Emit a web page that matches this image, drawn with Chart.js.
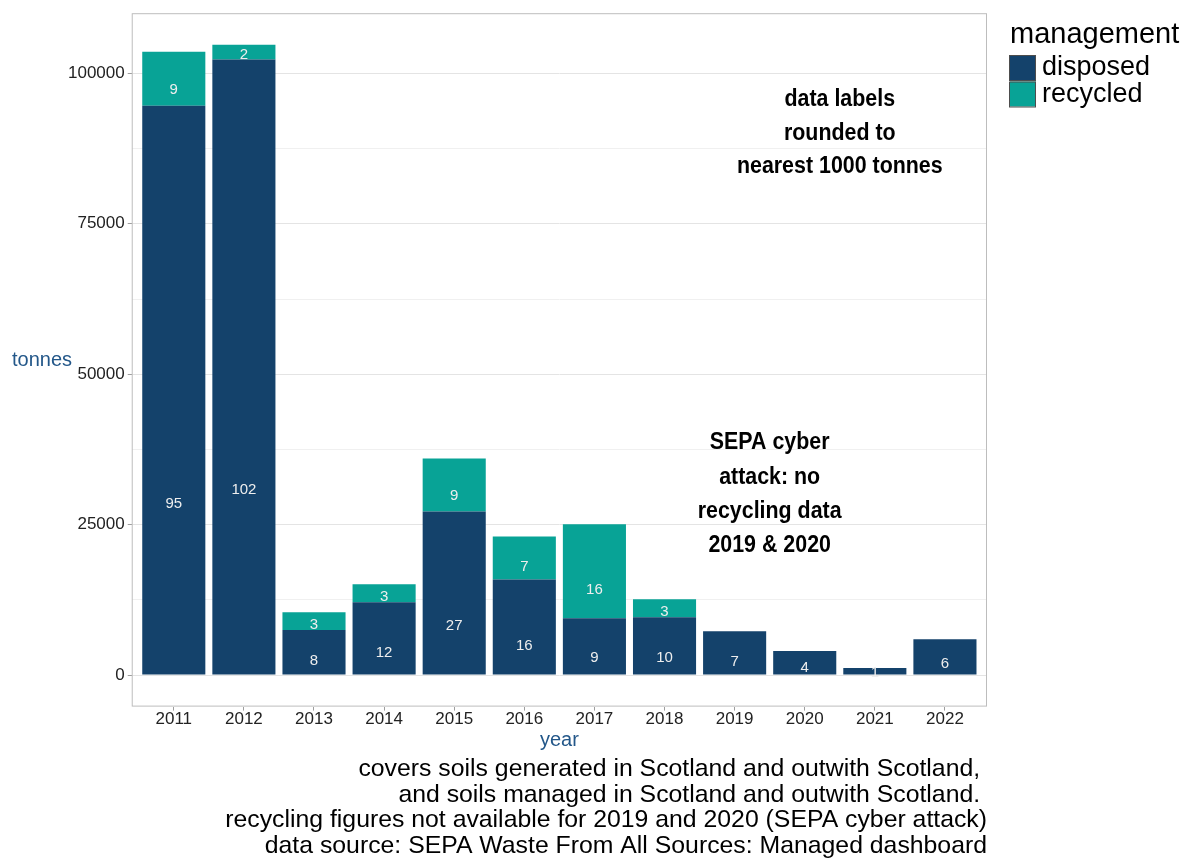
<!DOCTYPE html>
<html>
<head>
<meta charset="utf-8">
<script src="https://cdn.jsdelivr.net/npm/chart.js@4.4.1/dist/chart.umd.min.js"></script>
<style>
  body { margin: 0; background: #ffffff; }
  #wrap { width: 1192px; height: 861px; }
</style>
</head>
<body>
<div id="wrap"><canvas id="myChart"></canvas></div>
<script>
// values in tonnes
const years = [2011, 2012, 2013, 2014, 2015, 2016, 2017, 2018, 2019, 2020, 2021, 2022];
const disposed = [94600, 102300, 7500, 12100, 27200, 15900, 9450, 9600, 7300, 3980, 1160, 5970];
const recycled = [9000, 2450, 2950, 2980, 8800, 7130, 15600, 2990, null, null, null, null];
const yTicks = [0, 12500, 25000, 37500, 50000, 62500, 75000, 87500, 100000];
const yLabelTicks = [0, 25000, 50000, 75000, 100000];

const captionLines = [
  'covers soils generated in Scotland and outwith Scotland, ',
  'and soils managed in Scotland and outwith Scotland. ',
  'recycling figures not available for 2019 and 2020 (SEPA cyber attack)',
  'data source: SEPA Waste From All Sources: Managed dashboard'
];

const FONT = "'Liberation Sans', Arial, sans-serif";

window.addEventListener("load", iniciar, false);

// draw text squeezed horizontally a little
function narrowText(ctx, text, x, y, sx) {
  ctx.save();
  ctx.translate(x, y);
  ctx.scale(sx, 1);
  ctx.fillText(text, 0, 0);
  ctx.restore();
}

function iniciar() {
  const canvas = document.getElementById('myChart');

  const data = {
    datasets: [{
      label: 'disposed',
      data: years.map((y, i) => ({ x: y, y: disposed[i] })),
      backgroundColor: '#14426b',
      borderWidth: 0,
      barPercentage: 0.9,
      categoryPercentage: 1
    }, {
      label: 'recycled',
      data: years.map((y, i) => ({ x: y, y: recycled[i] })),
      backgroundColor: '#08a396',
      borderWidth: 0,
      barPercentage: 0.9,
      categoryPercentage: 1
    }]
  };

  // labels, annotations, panel border, legend, caption
  const extras = {
    id: 'extras',
    afterDatasetsDraw(chart) {
      const ctx = chart.ctx;
      ctx.save();
      ctx.font = '15px ' + FONT;
      ctx.fillStyle = '#eeeeee';
      ctx.textAlign = 'center';
      ctx.textBaseline = 'middle';
      chart.data.datasets.forEach((ds, di) => {
        const meta = chart.getDatasetMeta(di);
        meta.data.forEach((bar, i) => {
          const v = ds.data[i].y;
          if (v == null) return;
          const ly = bar.base - 0.3 * (bar.base - bar.y);
          ctx.fillText(String(Math.round(v / 1000)), bar.x, ly);
        });
      });
      ctx.restore();
    },
    afterDraw(chart) {
      const ctx = chart.ctx;
      const a = chart.chartArea;
      const xs = chart.scales.x, ys = chart.scales.y;
      ctx.save();

      // panel border
      ctx.strokeStyle = '#bdbdbd';
      ctx.lineWidth = 1;
      ctx.strokeRect(a.left + 0.5, a.top + 0.5, a.right - a.left - 1, a.bottom - a.top - 1);

      // annotations
      ctx.fillStyle = '#000000';
      ctx.textAlign = 'center';
      ctx.textBaseline = 'middle';
      ctx.font = 'bold 23px ' + FONT;
      const note1 = ['data labels', 'rounded to', 'nearest 1000 tonnes'];
      const n1x = xs.getPixelForValue(2020.5), n1y = ys.getPixelForValue(90000);
      note1.forEach((t, k) => narrowText(ctx, t, n1x, n1y + (k - 1) * 33.5, 0.93));
      const note2 = ['SEPA cyber', 'attack: no', 'recycling data', '2019 & 2020'];
      const n2x = xs.getPixelForValue(2019.5), n2y = ys.getPixelForValue(30000);
      note2.forEach((t, k) => narrowText(ctx, t, n2x, n2y + (k - 1.5) * 34.3, 0.93));

      // axis titles
      ctx.fillStyle = '#235789';
      ctx.font = '20px ' + FONT;
      ctx.textAlign = 'left';
      ctx.fillText('tonnes', 12, (a.top + a.bottom) / 2 + 1);
      ctx.textAlign = 'center';
      ctx.fillText('year', (a.left + a.right) / 2, 740);

      // caption
      ctx.fillStyle = '#000000';
      ctx.font = '24.8px ' + FONT;
      ctx.textAlign = 'right';
      captionLines.forEach((t, k) => ctx.fillText(t, a.right, 769 + k * 25.7));

      // legend
      ctx.textAlign = 'left';
      ctx.font = '29px ' + FONT;
      ctx.fillText('management', 1010, 35);
      ctx.font = '27px ' + FONT;
      chart.data.datasets.forEach((ds, k) => {
        const by = 55 + k * 26.5;
        ctx.fillStyle = ds.backgroundColor;
        ctx.fillRect(1010, by, 26, 25);
        ctx.strokeStyle = '#4d4d4d';
        ctx.lineWidth = 1;
        ctx.strokeRect(1009.5, by + 0.5, 26, 25);
        ctx.fillStyle = '#000000';
        ctx.fillText(ds.label, 1042, by + 13);
      });
      ctx.restore();
    }
  };

  new Chart(canvas, {
    type: 'bar',
    data: data,
    plugins: [extras],
    options: {
      responsive: true,
      maintainAspectRatio: false,
      animation: false,
      layout: { padding: { left: 65, right: 205, top: 6, bottom: 132 } },
      plugins: {
        legend: { display: false },
        tooltip: { enabled: false }
      },
      scales: {
        x: {
          type: 'linear',
          stacked: true,
          offset: false,
          min: 2010.4,
          max: 2022.6,
          afterBuildTicks: (axis) => { axis.ticks = years.map(v => ({ value: v })); },
          ticks: {
            callback: (v) => String(v),
            font: { family: FONT, size: 17 },
            color: '#222222',
            padding: -1,
            maxRotation: 0,
            autoSkip: false
          },
          grid: {
            offset: false,
            color: 'transparent',
            tickColor: '#9e9e9e',
            tickLength: 4
          },
          border: { display: false }
        },
        y: {
          stacked: true,
          min: -5240,
          max: 110000,
          afterBuildTicks: (axis) => { axis.ticks = yTicks.map(v => ({ value: v })); },
          ticks: {
            callback: (v) => yLabelTicks.includes(v) ? String(v) : '',
            font: { family: FONT, size: 17 },
            color: '#222222',
            padding: 3,
            autoSkip: false
          },
          grid: {
            color: (c) => yLabelTicks.includes(c.tick.value) ? '#e4e4e4' : '#f0f0f0',
            tickColor: (c) => yLabelTicks.includes(c.tick.value) ? '#9e9e9e' : 'transparent',
            tickLength: 4
          },
          border: { display: false }
        }
      }
    }
  });
}
</script>
</body>
</html>
